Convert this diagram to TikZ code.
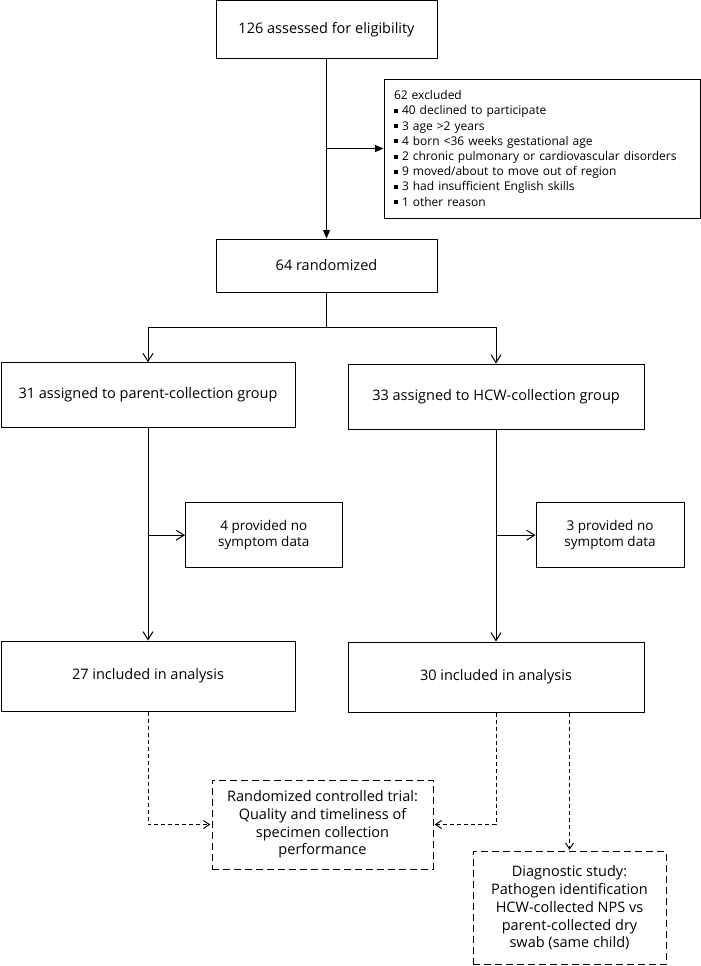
\documentclass[tikz,border=0pt]{standalone}
\usepackage{fontspec}
\setmainfont{Open Sans}
\usetikzlibrary{arrows.meta}
\newcommand{\sqbul}{\raisebox{2pt}{\rule{4pt}{4pt}}\hspace{4pt}}
\begin{document}
\begin{tikzpicture}[x=1pt,y=-1pt,
  box/.style={draw, line width=1pt, inner sep=0pt, align=center,
              font=\fontsize{14.5}{17.7}\selectfont},
  smallbox/.style={box, font=\fontsize{13.5}{16.5}\selectfont},
  dbox/.style={box, dash pattern=on 7pt off 4pt},
  conn/.style={line width=1pt},
  fa/.style={-{Triangle[length=8.5pt,width=7pt]}},
  oa/.style={-{Straight Barb[length=8pt,width=10pt,line width=1pt]}},
  da/.style={dash pattern=on 4pt off 3pt,
             -{Straight Barb[length=6pt,width=8pt,line width=1pt,sep]}}
]
\useasboundingbox (0,0) rectangle (701,966);
\fill[white] (0,0) rectangle (701,966);

\node[box, minimum width=221pt, minimum height=58pt] (box1) at (326.5,30) {126 assessed for eligibility};

\node[box, align=left, text width=296pt, inner xsep=10pt, minimum height=139pt,
      font=\fontsize{12}{15.2}\selectfont] (excl) at (542,148.5)
{62 excluded\\
\sqbul 40 declined to participate\\
\sqbul 3 age >2 years\\
\sqbul 4 born <36 weeks gestational age\\
\sqbul 2 chronic pulmonary or cardiovascular disorders\\
\sqbul 9 moved/about to move out of region\\
\sqbul 3 had insufficient English skills\\
\sqbul 1 other reason};

\node[box, minimum width=221pt, minimum height=53pt] (rand) at (326.5,265.5) {64 randomized};

\node[box, minimum width=294pt, minimum height=64.5pt] (arm1) at (148,395) {31 assigned to parent-collection group};
\node[box, minimum width=296pt, minimum height=65pt] (arm2) at (496,396.5) {33 assigned to HCW-collection group};

\node[smallbox, minimum width=156.5pt, minimum height=65pt] (nosym1) at (263.75,535.2) {4 provided no\\symptom data};
\node[smallbox, minimum width=148pt, minimum height=65pt] (nosym2) at (610,535.2) {3 provided no\\symptom data};

\node[box, minimum width=294pt, minimum height=70pt] (inc1) at (148,676) {27 included in analysis};
\node[box, minimum width=296pt, minimum height=70pt] (inc2) at (496,677) {30 included in analysis};

\node[dbox, minimum width=221pt, minimum height=89pt] (rct) at (322.5,824.5)
{Randomized controlled trial:\\Quality and timeliness of\\specimen collection\\performance};
\node[dbox, minimum width=193pt, minimum height=113pt] (diag) at (569.5,908)
{Diagnostic study:\\Pathogen identification\\HCW-collected NPS vs\\parent-collected dry\\swab (same child)};

% connectors
\draw[conn,fa] (box1.south) -- (rand.north);
\coordinate (exc) at (box1.south |- excl.west);
\draw[conn,fa] (exc) -- (excl.west);

\coordinate (split) at (326.5,327);
\draw[conn] (rand.south) -- (split);
\draw[conn,oa] (split) -| (arm1.north);
\draw[conn,oa] (split) -| (arm2.north);

\draw[conn,oa] (arm1.south) -- (inc1.north);
\coordinate (b1) at (arm1.south |- nosym1.west);
\draw[conn,oa] (b1) -- (nosym1.west);
\draw[conn,oa] (arm2.south) -- (inc2.north);
\coordinate (b2) at (arm2.south |- nosym2.west);
\draw[conn,oa] (b2) -- (nosym2.west);

\draw[conn,da] (inc1.south) |- (rct.west);
\draw[conn,da] (inc2.south) |- (rct.east);
\coordinate (d1) at (inc2.south -| diag.north);
\draw[conn,da] (d1) -- (diag.north);
\end{tikzpicture}
\end{document}
